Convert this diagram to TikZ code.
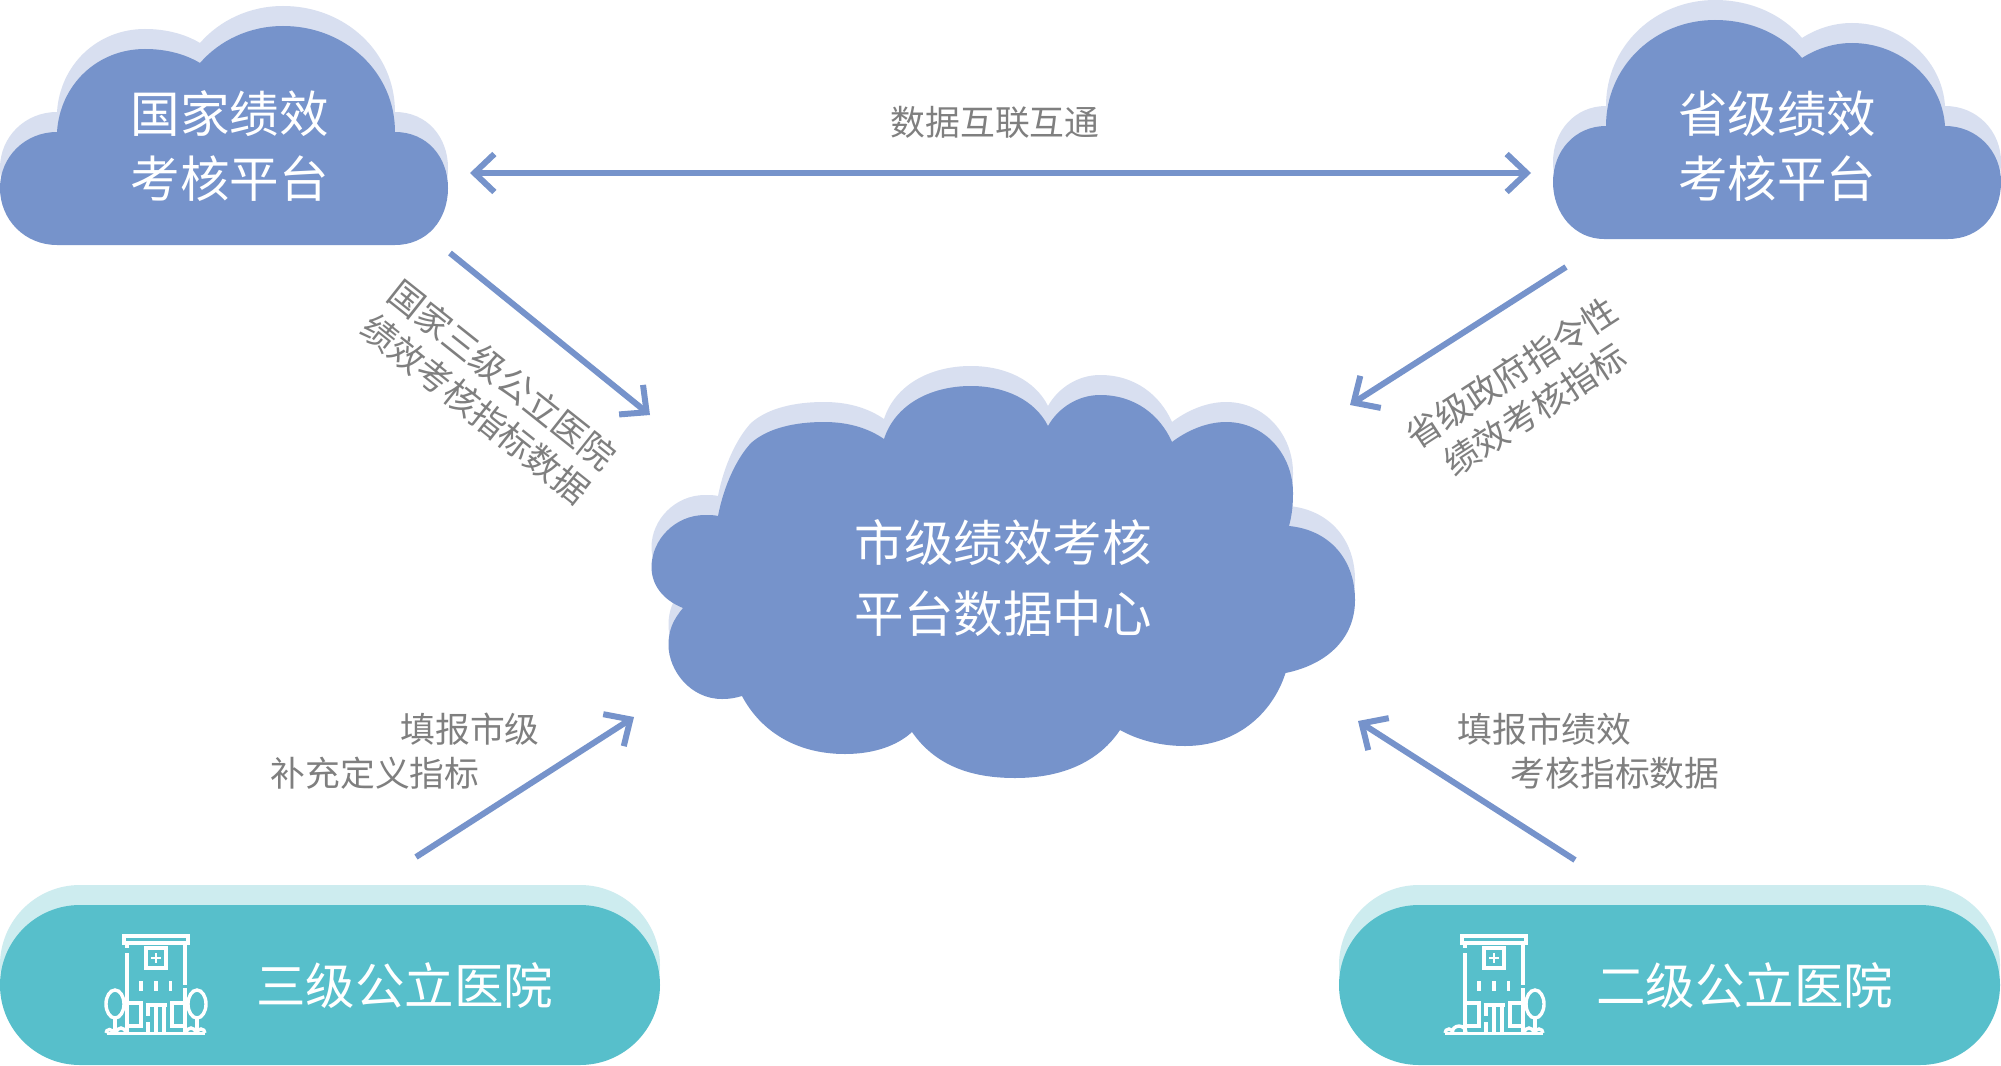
\documentclass[tikz,border=0pt]{standalone}
\usepackage{fontspec}
\setmainfont{Noto Sans CJK SC}
\usetikzlibrary{arrows.meta}
\definecolor{cloudblue}{HTML}{7693CB}
\definecolor{cloudpale}{HTML}{D8DFF0}
\definecolor{tealmain}{HTML}{57BFCB}
\definecolor{tealpale}{HTML}{CDECEF}
\definecolor{labelgrey}{HTML}{7F7F7F}
\newcommand{\cloudNat}{(57,245) .. controls (25,245) and (0,220) .. (0,188) .. controls (0,157) and (25,132) .. (57,132) .. controls (60,85) and (97,49) .. (145,49) .. controls (166,49) and (185,54) .. (200,63) .. controls (220,40) and (250,26) .. (283,26) .. controls (345,26) and (395,72) .. (395,132) .. controls (427,132) and (448,157) .. (448,188) .. controls (448,220) and (427,245) .. (395,245) -- cycle}
\newcommand{\cloudProv}{(1948,239) .. controls (1980,239) and (2001,214) .. (2001,182) .. controls (2001,151) and (1977,126) .. (1945,126) .. controls (1942,79) and (1900,43) .. (1852,43) .. controls (1833,43) and (1816,49) .. (1802,58) .. controls (1782,34) and (1750,20) .. (1715,20) .. controls (1655,20) and (1606,66) .. (1606,126) .. controls (1575,126) and (1553,151) .. (1553,182) .. controls (1553,214) and (1575,239) .. (1604,239) -- cycle}
\newcommand{\cloudCity}{(718,516) .. controls (724,485) and (737,458) .. (751,443) .. controls (768,428) and (795,422) .. (824,422) .. controls (848,422) and (868,428) .. (884,439) .. controls (895,405) and (930,386) .. (971,386) .. controls (1005,386) and (1035,400) .. (1048,426) .. controls (1058,408) and (1078,395) .. (1100,395) .. controls (1135,395) and (1160,415) .. (1172,442) .. controls (1185,432) and (1205,422) .. (1226,422) .. controls (1265,422) and (1293,455) .. (1293,493) .. controls (1293,505) and (1292,515) .. (1289,526) .. controls (1330,530) and (1355,560) .. (1355,600) .. controls (1355,640) and (1325,665) .. (1285.5,673) .. controls (1272,715) and (1235,746) .. (1185,746) .. controls (1160,746) and (1138,740) .. (1120,730) .. controls (1100,760) and (1065,778) .. (1015,778) .. controls (970,778) and (935,765) .. (912,732) .. controls (898,745) and (875,754) .. (845,754) .. controls (795,754) and (760,730) .. (742,696) .. controls (735,698) and (730,699) .. (722,699) .. controls (690,699) and (668.5,670) .. (668.5,645) .. controls (668.5,630) and (673,620) .. (683,608) .. controls (663,600) and (651.5,585) .. (651.5,567) .. controls (651.5,540) and (675,515) .. (705,515) .. controls (710,515) and (714,515) .. (718,516) -- cycle}
\tikzset{
  paleup/.style={shift={(0,-20)}},
  cloudtext/.style={text=white,align=center,font=\fontsize{49.5}{65}\selectfont,inner sep=0pt},
  citytext/.style={text=white,align=center,font=\fontsize{49.5}{71}\selectfont,inner sep=0pt},
  pilltext/.style={text=white,font=\fontsize{49.5}{60}\selectfont,inner sep=0pt},
  greylabel/.style={text=labelgrey,font=\fontsize{34.8}{43}\selectfont,inner sep=0pt,align=left},
  flow/.style={draw=cloudblue,line width=6pt,
    -{Straight Barb[length=20pt,width=38pt,line width=6pt,line cap=butt,line join=miter]}},
  flowboth/.style={draw=cloudblue,line width=6pt,
    {Straight Barb[length=20pt,width=38pt,line width=6pt,line cap=butt,line join=miter]}-{Straight Barb[length=20pt,width=38pt,line width=6pt,line cap=butt,line join=miter]}},
  iconline/.style={draw=white,line width=3.4pt,fill=none},
  building/.pic={
    \draw[iconline] (124,936) rectangle (188,943);
    \draw[iconline] (127,943) -- (127,948) (127,953) -- (127,1033);
    \draw[iconline] (185,943) -- (185,985) (185,988) -- (185,1033);
    \draw[iconline] (146,948) rectangle (166,968);
    \draw[draw=white,line width=2.4pt] (156,953) -- (156,963) (151,958) -- (161,958);
    \draw[iconline] (141,981) -- (141,991) (156,981) -- (156,991) (170.5,981) -- (170.5,991);
    \draw[iconline] (127,1003) -- (141,1003) -- (141,1026) -- (127,1026);
    \draw[iconline] (185,1003) -- (172,1003) -- (172,1026) -- (185,1026);
    \draw[iconline] (145.5,1005) -- (167,1005);
    \draw[iconline] (148,1005) -- (148,1016) (148,1022) -- (148,1033);
    \draw[iconline] (156,1005) -- (156,1033) (164,1005) -- (164,1033);
    \draw[iconline] (197,1004) ellipse (9 and 14);
    \draw[iconline] (197,1018) -- (197,1033);
    \draw[iconline] (186,1033) arc (180:360:5);
    \draw[iconline] (197,1033) arc (180:360:4);
    \draw[draw=white,line width=3.5pt] (107,1033.5) -- (205,1033.5);
  }
}
\begin{document}
\begin{tikzpicture}[x=1pt,y=-1pt]
\useasboundingbox (0,0) rectangle (2001,1065);
\fill[white] (0,0) rectangle (2001,1065);
% clouds
\fill[cloudpale,paleup] \cloudNat;
\fill[cloudblue] \cloudNat;
\fill[cloudpale,paleup] \cloudProv;
\fill[cloudblue] \cloudProv;
\fill[cloudpale,paleup] \cloudCity;
\fill[cloudblue] \cloudCity;
% pills
\fill[tealpale,rounded corners=80pt] (0,885) rectangle (660,1045);
\fill[tealmain,rounded corners=80pt] (0,905) rectangle (660,1065);
\fill[tealpale,rounded corners=80pt] (1339,885) rectangle (2000,1045);
\fill[tealmain,rounded corners=80pt] (1339,905) rectangle (2000,1065);
% icons
\pic {building};
\draw[iconline] (115,1004) ellipse (9 and 14);
\draw[iconline] (115,1018) -- (115,1033);
\draw[iconline] (116,1033) arc (180:360:5);
\draw[iconline] (106,1033) arc (180:360:3.5);
\begin{scope}[xshift=1338pt]
\pic {building};
\draw[iconline] (114,1033) arc (180:360:7);
\draw[iconline] (107,1033) arc (180:360:4);
\end{scope}
% texts
\node[cloudtext] (nat) at (229.5,146) {国家绩效\\考核平台};
\node[cloudtext] (prov) at (1777,146) {省级绩效\\考核平台};
\node[citytext] (city) at (1003,578) {市级绩效考核\\平台数据中心};
\node[pilltext] (third) at (404.5,986) {三级公立医院};
\node[pilltext] (second) at (1744.5,986) {二级公立医院};
\node[greylabel] (share) at (995,122.5) {数据互联互通};
\node[greylabel,rotate=-38.5,align=center] (natflow) at (489,392) {国家三级公立医院\\绩效考核指标数据};
\node[greylabel,rotate=33,align=center] (provflow) at (1523,391) {省级政府指令性\\绩效考核指标};
\node[greylabel] (t1a) at (470,729.5) {填报市级};
\node[greylabel] (t1b) at (375,773) {补充定义指标};
\node[greylabel] (t2a) at (1544.5,729.5) {填报市绩效};
\node[greylabel] (t2b) at (1615,773) {考核指标数据};
% connector ends
\coordinate (natE) at (470,173);
\coordinate (provW) at (1531,173);
\coordinate (natS) at (450,253);
\coordinate (cityNW) at (650,415);
\coordinate (provS) at (1566,267);
\coordinate (cityNE) at (1350,405);
\coordinate (thirdN) at (416,857);
\coordinate (citySW) at (634,717);
\coordinate (secondN) at (1575,860);
\coordinate (citySE) at (1358,721);
\draw[flowboth] (natE) -- (provW);
\draw[flow] (natS) -- (cityNW);
\draw[flow] (provS) -- (cityNE);
\draw[flow] (thirdN) -- (citySW);
\draw[flow] (secondN) -- (citySE);
\end{tikzpicture}
\end{document}
